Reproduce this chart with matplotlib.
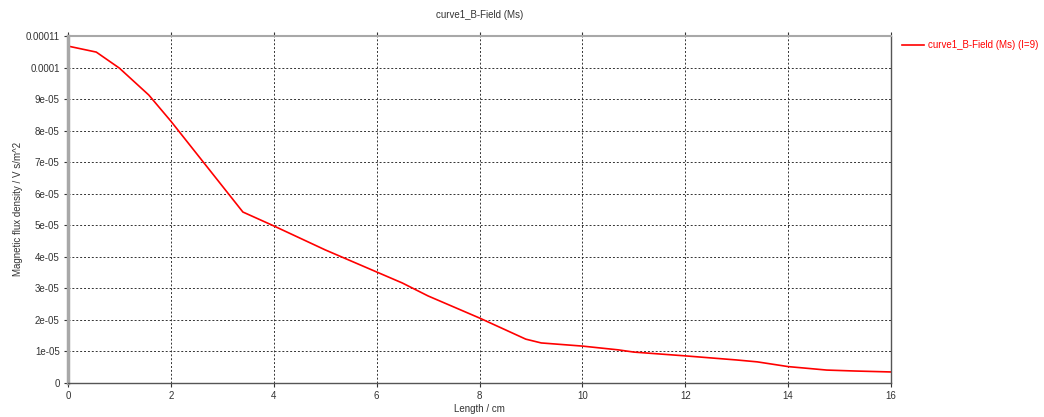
import matplotlib
matplotlib.use("Agg")
import matplotlib.pyplot as plt
from matplotlib.ticker import FixedLocator, FixedFormatter

# B-field magnitude along the probe path
length_cm = [0.0, 0.55, 1.0, 1.57, 2.0, 3.4, 4.0, 5.0, 6.0, 6.5, 7.0, 8.0, 8.9, 9.2,
             10.0, 10.7, 11.0, 12.0, 13.0, 13.4, 14.0, 14.75, 15.3, 16.0]
b_field = [1.068e-4, 1.049e-4, 0.998e-4, 0.913e-4, 0.830e-4, 0.542e-4, 0.498e-4,
           0.422e-4, 0.352e-4, 0.317e-4, 0.276e-4, 0.206e-4, 0.139e-4, 0.127e-4,
           0.117e-4, 0.105e-4, 0.098e-4, 0.086e-4, 0.073e-4, 0.067e-4, 0.052e-4,
           0.041e-4, 0.038e-4, 0.035e-4]

x_ticks = [0, 2, 4, 6, 8, 10, 12, 14, 16]
y_ticks = [0, 1e-5, 2e-5, 3e-5, 4e-5, 5e-5, 6e-5, 7e-5, 8e-5, 9e-5, 1e-4, 1.1e-4]
y_tick_labels = ["0", "1e-05", "2e-05", "3e-05", "4e-05", "5e-05", "6e-05",
                 "7e-05", "8e-05", "9e-05", "0.0001", "0.00011"]

plt.rcParams["font.family"] = ["Liberation Sans", "DejaVu Sans"]
W, H = 1044, 417
fig = plt.figure(figsize=(W / 100, H / 100), dpi=100)
ax = fig.add_axes([68 / W, 34 / H, 823 / W, 347 / H])

ax.plot(length_cm, b_field, color="#ff0000", linewidth=1.2,
        label="curve1_B-Field (Ms) (I=9)")

ax.set_xlim(0, 16)
ax.set_ylim(0, 1.1e-4)
ax.xaxis.set_major_locator(FixedLocator(x_ticks))
ax.yaxis.set_major_locator(FixedLocator(y_ticks))
ax.yaxis.set_major_formatter(FixedFormatter(y_tick_labels))

ax.grid(True, color="#333333", linestyle=(0, (2, 2)), linewidth=0.7)
ax.tick_params(axis="both", labelsize=7, colors="#333333", length=3, width=0.8, pad=3)
ax.tick_params(axis="x", top=True, direction="out", pad=3)

for name, spine in ax.spines.items():
    spine.set_color("#555555")
    spine.set_linewidth(1.0)
ax.spines["left"].set_color("#a8a8a8")
ax.spines["left"].set_linewidth(2.5)
ax.spines["top"].set_color("#a8a8a8")
ax.spines["top"].set_linewidth(1.5)

text_kw = dict(fontsize=7, color="#333333", ha="center", va="center")
fig.text(479.5 / W, 1 - 15 / H, "curve1_B-Field (Ms)", **text_kw)
fig.text(479.5 / W, 1 - 409 / H, "Length / cm", **text_kw)
fig.text(18 / W, 1 - 209 / H, "Magnetic flux density / V s/m^2", rotation=90, **text_kw)

leg = fig.legend(loc="center left", bbox_to_anchor=(902 / W, 1 - 45 / H), frameon=False,
                 fontsize=7, handlelength=2.3, handletextpad=0.4,
                 borderaxespad=0, borderpad=0)
for t in leg.get_texts():
    t.set_color("#ff0000")

fig.savefig("out.png", dpi=100)
